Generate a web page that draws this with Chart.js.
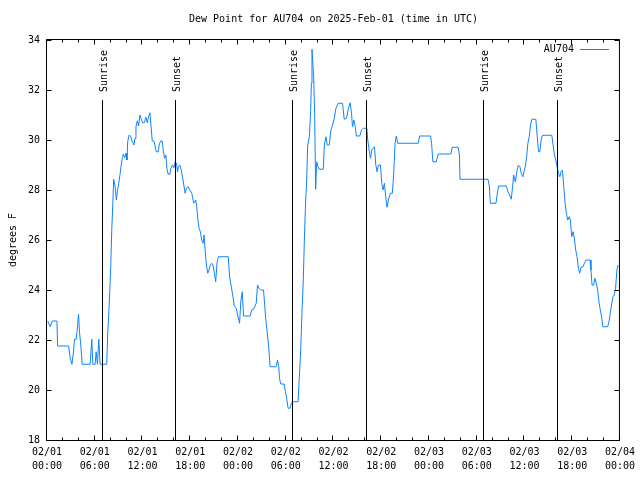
<!DOCTYPE html>
<html>
<head>
<meta charset="utf-8">
<script src="https://cdn.jsdelivr.net/npm/chart.js@4.4.1/dist/chart.umd.min.js"></script>
<style>
  html, body { margin: 0; padding: 0; background: #fff; }
  canvas { display: block; }
</style>
</head>
<body>
<canvas id="c" width="640" height="480"></canvas>
<script>
// hours since 2025-02-01 00:00 UTC
const hours = [
  0.08, 0.41, 0.66, 1.25, 1.33, 2.71, 2.92, 3.13, 3.33, 3.46, 3.67, 3.84, 3.96, 4.09, 4.25, 4.42,
  5.42, 5.63, 5.76, 6.05, 6.17, 6.34, 6.51, 6.67, 7.51, 7.63, 7.76, 7.88, 8.01, 8.13, 8.26, 8.38,
  8.55, 8.72, 8.84, 9.01, 9.18, 9.30, 9.47, 9.60, 9.76, 9.93, 10.05, 10.14, 10.31, 10.51, 10.68,
  10.93, 11.06, 11.18, 11.35, 11.51, 11.68, 11.81, 12.02, 12.22, 12.43, 12.60, 12.77, 12.93, 13.06,
  13.23, 13.43, 13.56, 13.73, 13.98, 14.10, 14.27, 14.48, 14.60, 14.77, 14.94, 15.06, 15.23, 15.44,
  15.56, 15.77, 15.94, 16.11, 16.27, 16.40, 16.52, 16.69, 16.86, 17.02, 17.19, 17.36, 17.52, 17.73,
  17.90, 18.19, 18.44, 18.69, 18.82, 18.94, 19.11, 19.28, 19.44, 19.61, 19.74, 19.90, 20.03, 20.20,
  20.36, 20.53, 20.70, 20.86, 21.03, 21.20, 21.36, 21.53, 22.78, 22.95, 23.16, 23.37, 23.53, 23.79,
  23.95, 24.20, 24.37, 24.54, 24.70, 25.54, 25.70, 25.96, 26.29, 26.46, 26.62, 26.87, 27.21, 27.37,
  27.54, 27.71, 27.88, 28.04, 28.79, 28.96, 29.13, 29.21, 29.38, 29.80, 29.96, 30.13, 30.30, 30.55,
  30.71, 30.88, 31.55, 31.71, 31.88, 32.05, 32.22, 32.34, 32.47, 32.63, 32.76, 32.97, 33.13, 33.22,
  33.30, 33.38, 33.51, 33.63, 33.76, 33.89, 34.05, 34.22, 34.72, 34.85, 35.05, 35.22, 35.47, 35.68,
  35.89, 36.10, 36.31, 36.60, 37.14, 37.35, 37.64, 37.89, 38.10, 38.27, 38.39, 38.56, 38.73, 38.89,
  39.31, 39.52, 39.77, 40.19, 40.31, 40.48, 40.65, 40.81, 40.98, 41.15, 41.32, 41.48, 41.65, 41.90,
  42.07, 42.23, 42.40, 42.57, 42.73, 42.90, 43.15, 43.40, 43.57, 43.74, 43.90, 44.07, 46.66, 46.82,
  48.20, 48.33, 48.49, 48.91, 49.16, 50.75, 50.91, 51.67, 51.83, 51.90, 55.42, 55.59, 55.71, 56.42,
  56.59, 56.76, 57.72, 57.93, 58.14, 58.34, 58.51, 58.64, 58.85, 59.05, 59.22, 59.43, 59.60, 59.80,
  59.93, 60.10, 60.26, 60.43, 60.60, 60.77, 60.93, 61.43, 61.60, 61.77, 61.93, 62.10, 62.27, 63.44,
  63.60, 63.77, 63.94, 64.10, 64.27, 64.44, 64.60, 64.77, 64.94, 65.11, 65.27, 65.44, 65.61, 65.77,
  65.94, 66.11, 66.27, 66.44, 66.61, 66.78, 66.94, 67.11, 67.36, 67.53, 67.73, 68.24, 68.36, 68.49,
  68.70, 68.86, 69.03, 69.20, 69.36, 69.53, 69.70, 69.86, 70.45, 70.62, 70.78, 70.95, 71.12, 71.28,
  71.45, 71.62, 71.75
];
// dew point, degrees F
const dewPoint = [
  22.76, 22.53, 22.76, 22.76, 21.76, 21.76, 21.27, 21.03, 21.53, 22.03, 22.03, 22.53, 23.04, 22.29, 21.80, 21.03,
  21.03, 22.03, 21.03, 21.03, 21.53, 21.03, 22.03, 21.03, 21.03, 22.27, 23.04, 23.87, 24.97, 26.33, 27.37, 28.43,
  28.16, 27.60, 27.93, 28.27, 28.63, 28.93, 29.29, 29.44, 29.29, 29.47, 29.20, 29.93, 30.19, 30.16, 29.96,
  29.80, 30.07, 30.53, 30.77, 30.56, 31.00, 30.87, 30.69, 30.69, 30.91, 30.69, 30.93, 31.09, 30.60,
  29.96, 29.96, 29.80, 29.53, 29.53, 29.80, 29.96, 29.96, 29.60, 29.27, 29.40, 28.87, 28.63, 28.63,
  28.87, 29.00, 28.89, 29.13, 29.07, 28.73, 28.93, 29.00, 28.83, 28.53, 28.20, 27.87, 28.07, 28.13,
  28.03, 27.87, 27.47, 27.60, 27.33, 26.87, 26.47, 26.33, 26.00, 25.87, 26.20, 25.47, 25.00, 24.67,
  24.80, 25.00, 25.07, 25.00, 24.67, 24.33, 25.07, 25.33, 25.33, 24.53, 24.13, 23.73, 23.36, 23.27,
  23.00, 22.67, 23.60, 23.93, 22.96, 22.96, 23.20, 23.23, 23.47, 24.20, 24.07, 24.00, 24.00, 23.33,
  22.67, 22.20, 21.63, 20.93, 20.93, 21.20, 20.93, 20.47, 20.24, 20.24, 19.93, 19.63, 19.27, 19.27,
  19.47, 19.53, 19.53, 20.53, 21.60, 23.16, 24.53, 26.00, 27.27, 28.40, 29.80, 30.13, 31.13, 32.27,
  33.63, 33.20, 32.53, 31.07, 28.03, 29.13, 28.93, 28.83, 28.83, 29.80, 30.13, 29.80, 29.80, 30.40,
  30.60, 30.87, 31.27, 31.47, 31.47, 30.83, 30.87, 31.27, 31.49, 31.07, 30.53, 30.80, 30.53, 30.16,
  30.16, 30.40, 30.47, 30.47, 30.00, 29.60, 29.27, 29.60, 29.67, 29.73, 29.00, 28.73, 29.00, 29.00,
  28.27, 28.00, 28.27, 27.73, 27.31, 27.60, 27.87, 27.87, 28.67, 29.87, 30.16, 29.87, 29.87, 30.16,
  30.16, 29.87, 29.13, 29.13, 29.44, 29.44, 29.71, 29.71, 29.40, 28.43, 28.43, 28.16, 27.47, 27.47,
  27.87, 28.16, 28.16, 27.93, 27.80, 27.63, 28.13, 28.60, 28.33, 28.73, 29.00, 28.93, 28.67, 28.53,
  28.73, 28.93, 29.27, 29.87, 30.13, 30.60, 30.83, 30.83, 30.16, 29.53, 29.53, 30.00, 30.19, 30.19,
  29.80, 29.40, 29.20, 28.93, 28.67, 28.53, 28.73, 28.80, 28.13, 27.47, 27.07, 26.80, 26.93, 26.80,
  26.13, 26.33, 26.07, 25.60, 25.33, 24.87, 24.67, 24.91, 24.93, 25.07, 25.20, 25.20, 24.80, 24.20,
  24.20, 24.47, 24.27, 24.00, 23.53, 23.20, 22.93, 22.53, 22.53, 22.73, 23.07, 23.40, 23.73, 23.80,
  24.07, 24.80, 25.00
];

const sunEvents = ['Sunrise', 'Sunset', 'Sunrise', 'Sunset', 'Sunrise', 'Sunset'];
const sunHours = [6.96, 16.19, 30.88, 40.15, 54.80, 64.15];

const tickDays = ['02/01', '02/02', '02/03', '02/04'];
const tickTimes = ['00:00', '06:00', '12:00', '18:00'];

const FONT = 'DejaVu Sans Mono';
const LINE = '#0f82ff';

const points = hours.map((h, i) => ({ x: h, y: dewPoint[i] }));

// gnuplot-like frame with inward ticks on all four sides
const framePlugin = {
  id: 'frame',
  afterDraw(chart) {
    const { ctx, chartArea: a, scales: { x, y } } = chart;
    ctx.save();
    ctx.strokeStyle = '#000';
    ctx.lineWidth = 1;
    ctx.beginPath();
    const L = a.left - 0.5, R = a.right - 0.5, T = a.top - 0.5, B = a.bottom + 0.5;
    ctx.rect(L, T, R - L, B - T);
    x.ticks.forEach(t => {
      const px = Math.round(x.getPixelForValue(t.value)) - 0.5;
      const len = t.value % 6 === 0 ? 5 : 3;
      ctx.moveTo(px, B); ctx.lineTo(px, B - len);
      ctx.moveTo(px, T); ctx.lineTo(px, T + len);
    });
    y.ticks.forEach(t => {
      const py = Math.round(y.getPixelForValue(t.value)) + 0.5;
      ctx.moveTo(L, py); ctx.lineTo(L + 5, py);
      ctx.moveTo(R, py); ctx.lineTo(R - 5, py);
    });
    ctx.stroke();

    // legend
    ctx.fillStyle = '#000';
    ctx.font = '10px "' + FONT + '"';
    ctx.textAlign = 'right';
    ctx.textBaseline = 'middle';
    ctx.fillText(chart.data.datasets[0].label, a.right - 46, a.top + 9);
    ctx.strokeStyle = LINE;
    ctx.beginPath();
    ctx.moveTo(a.right - 40, a.top + 9.5);
    ctx.lineTo(a.right - 11, a.top + 9.5);
    ctx.stroke();
    ctx.restore();
  }
};

// sunrise / sunset markers
const sunPlugin = {
  id: 'sun',
  afterDatasetsDraw(chart) {
    const { ctx, chartArea: a, scales: { x } } = chart;
    ctx.save();
    ctx.strokeStyle = '#000';
    ctx.fillStyle = '#000';
    ctx.lineWidth = 1;
    ctx.font = '10px "' + FONT + '"';
    sunHours.forEach((h, i) => {
      const px = Math.floor(x.getPixelForValue(h)) + 0.5;
      ctx.beginPath();
      ctx.moveTo(px, a.top + 60);
      ctx.lineTo(px, a.bottom);
      ctx.stroke();
      ctx.save();
      ctx.translate(px + 1.5, a.top + 52);
      ctx.rotate(-Math.PI / 2);
      ctx.textAlign = 'left';
      ctx.textBaseline = 'middle';
      ctx.fillText(sunEvents[i], 0, 0);
      ctx.restore();
    });
    ctx.restore();
  }
};

new Chart(document.getElementById('c'), {
  type: 'line',
  data: {
    datasets: [{
      label: 'AU704',
      data: points,
      borderColor: LINE,
      borderWidth: 1,
      pointRadius: 0,
      tension: 0,
      fill: false
    }]
  },
  options: {
    responsive: false,
    animation: false,
    devicePixelRatio: 1,
    layout: { padding: { left: 0, right: 18, top: 0, bottom: 0 } },
    plugins: {
      legend: { display: false },
      tooltip: { enabled: false },
      title: {
        display: true,
        fullSize: false,
        text: 'Dew Point for AU704 on 2025-Feb-01 (time in UTC)',
        color: '#000',
        font: { family: FONT, size: 10, weight: 'normal', lineHeight: 1.2 },
        padding: { top: 13, bottom: 15 }
      }
    },
    scales: {
      x: {
        type: 'linear',
        min: 0,
        max: 72,
        afterFit(s) { s.height = 40; },
        grid: { display: false, drawTicks: false },
        border: { display: false },
        ticks: {
          stepSize: 2,
          autoSkip: false,
          maxRotation: 0,
          padding: 5,
          color: '#000',
          font: { family: FONT, size: 10, lineHeight: 1.45 },
          callback: v => v % 6 === 0 ? [tickDays[Math.floor(v / 24)], tickTimes[(v % 24) / 6]] : ''
        }
      },
      y: {
        min: 18,
        max: 34,
        afterFit(s) { s.width = 47; },
        grid: { display: false, drawTicks: false },
        border: { display: false },
        ticks: {
          stepSize: 2,
          padding: 7,
          color: '#000',
          font: { family: FONT, size: 10 }
        },
        title: {
          display: true,
          text: 'degrees F',
          color: '#000',
          font: { family: FONT, size: 10 },
          padding: { top: 7, bottom: 0 }
        }
      }
    }
  },
  plugins: [framePlugin, sunPlugin]
});
</script>
</body>
</html>
